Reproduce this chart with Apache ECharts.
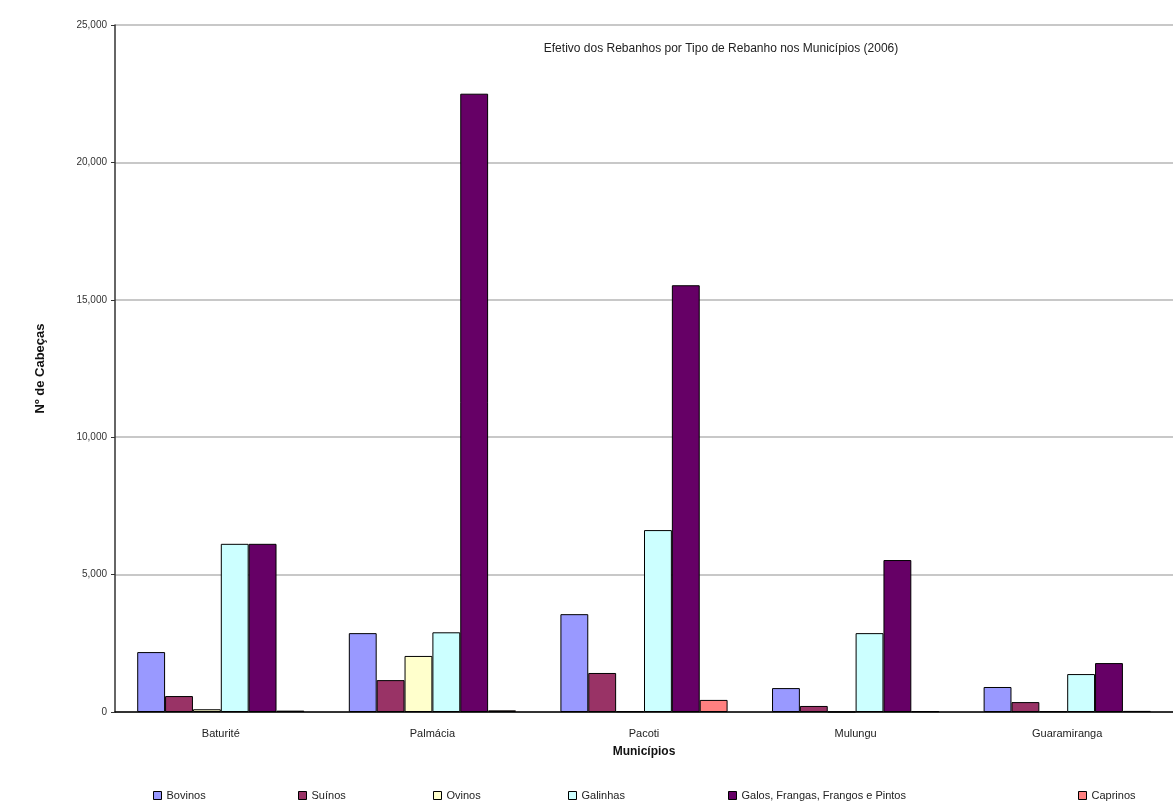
<!DOCTYPE html>
<html>
<head>
<meta charset="utf-8">
<script src="https://cdn.jsdelivr.net/npm/echarts@6/dist/echarts.min.js"></script>
<style>
  html, body { margin: 0; padding: 0; background: #ffffff; }
  #chart { width: 1173px; height: 810px; }
</style>
</head>
<body>
<div id="chart"></div>
<script>
// Municipalities on the category axis
const municipios = ['Baturité', 'Palmácia', 'Pacoti', 'Mulungu', 'Guaramiranga'];

// Herd size (number of head) per species and municipality
const bovinos  = [2180, 2870, 3560, 870, 910];
const suinos   = [580, 1160, 1420, 220, 360];
const ovinos   = [100, 2040, 30, 10, 30];
const galinhas = [6120, 2900, 6620, 2870, 1380];
const galos    = [6120, 22500, 15530, 5530, 1780];
const caprinos = [50, 60, 440, 30, 40];

const seriesNames = ['Bovinos', 'Suínos', 'Ovinos', 'Galinhas', 'Galos, Frangas, Frangos e Pintos', 'Caprinos'];
const seriesData = [bovinos, suinos, ovinos, galinhas, galos, caprinos];
const seriesColors = ['#9999FF', '#993366', '#FFFFCC', '#CCFFFF', '#660066', '#FF8080'];

// Legend entries sit at individual positions along the bottom
const legendLeft = [148, 293, 428, 563, 723, 1073];

const chart = echarts.init(document.getElementById('chart'));

const series = seriesNames.map((name, i) => ({
  name: name,
  type: 'bar',
  data: seriesData[i],
  barGap: '0%',
  barCategoryGap: '21%',
  itemStyle: { color: seriesColors[i], borderColor: '#000000', borderWidth: 1 }
}));

const legends = seriesNames.map((name, i) => ({
  data: [name],
  left: legendLeft[i],
  top: 785,
  itemWidth: 8,
  itemHeight: 8,
  itemGap: 4,
  icon: 'rect',
  itemStyle: { borderColor: '#000', borderWidth: 1 },
  textStyle: { fontFamily: 'Liberation Sans', fontSize: 11, color: '#222' },
  selectedMode: false
}));

chart.setOption({
  animation: false,
  backgroundColor: '#ffffff',
  title: {
    text: 'Efetivo dos Rebanhos por Tipo de Rebanho nos Municípios (2006)',
    left: 716,
    top: 38,
    textAlign: 'center',
    textStyle: { fontFamily: 'Liberation Sans', fontSize: 12, fontWeight: 'normal', color: '#222' }
  },
  legend: legends,
  grid: { left: 115, right: -7, top: 25, bottom: 98, containLabel: false },
  xAxis: {
    type: 'category',
    data: municipios,
    name: 'Municípios',
    nameLocation: 'middle',
    nameGap: 34,
    nameTextStyle: { fontFamily: 'Liberation Sans', fontSize: 12, fontWeight: 'bold', color: '#111' },
    axisLine: { lineStyle: { color: '#000', width: 1.5 } },
    axisTick: { show: false },
    axisLabel: { fontFamily: 'Liberation Sans', fontSize: 11, color: '#222', margin: 16 }
  },
  yAxis: {
    type: 'value',
    min: 0,
    max: 25000,
    interval: 5000,
    name: 'Nº de Cabeças',
    nameLocation: 'middle',
    nameGap: 68,
    nameRotate: 90,
    nameTextStyle: { fontFamily: 'Liberation Sans', fontSize: 13, fontWeight: 'bold', color: '#111' },
    axisLine: { show: true, lineStyle: { color: '#333', width: 1.5 } },
    axisTick: { show: true, length: 4, lineStyle: { color: '#333' } },
    axisLabel: {
      fontFamily: 'Liberation Sans', fontSize: 10, color: '#333', margin: 8,
      formatter: v => v.toLocaleString('en-US')
    },
    splitLine: { lineStyle: { color: '#c8c8c8', width: 2 } }
  },
  series: series
});
</script>
</body>
</html>
